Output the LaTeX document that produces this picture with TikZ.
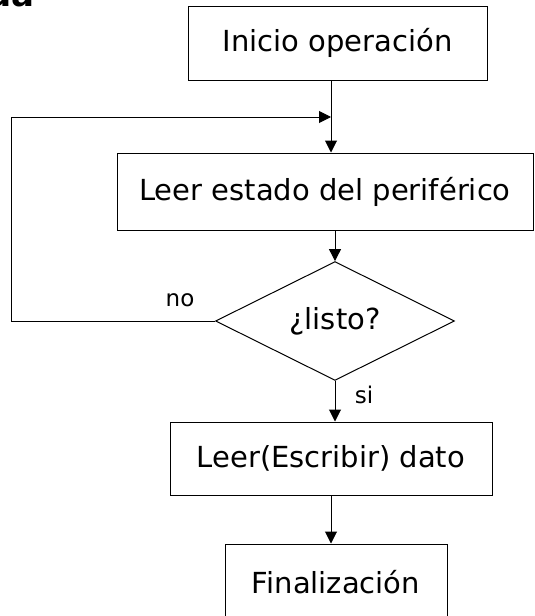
\documentclass[tikz,border=0pt]{standalone}
\usepackage{fontspec}
\setmainfont{DejaVu Sans}
\usetikzlibrary{arrows.meta,shapes.geometric}
\tikzset{
  box/.style={draw=black, line width=1pt, inner sep=0pt, font=\fontsize{29}{32}\selectfont},
  decision/.style={draw=black, line width=1pt, diamond, inner sep=0pt, minimum width=239pt, minimum height=105pt, font=\fontsize{29}{32}\selectfont},
  arr/.style={draw=black, line width=1pt, -{Triangle[length=12pt,width=12pt]}},
  lbl/.style={inner sep=0pt, font=\fontsize{23}{26}\selectfont},
  titlefrag/.style={inner sep=0pt, font=\fontsize{34}{38}\selectfont\bfseries}
}
\begin{document}
\begin{tikzpicture}[x=1pt,y=-1pt]
\useasboundingbox (0,0) rectangle (535,616);
\clip (0,0) rectangle (535,616);
\fill[white] (0,0) rectangle (535,616);
\node[titlefrag, anchor=base east] (title) at (35,6) {ua};
\node[box, minimum width=299pt, minimum height=74pt] (b1) at (337.5,43) {Inicio operación};
\node[box, minimum width=416pt, minimum height=77pt] (b2) at (325,191.5) {Leer estado del periférico};
\node[decision] (dia) at (335,321) {¿listo?};
\node[box, minimum width=322pt, minimum height=73pt] (b3) at (331,458.5) {Leer(Escribir) dato};
\node[box, minimum width=222pt, minimum height=76pt] (b4) at (336,582) {Finalización};
\coordinate (j) at (331,117);
\coordinate (lc) at (11,117);
\draw[arr] (b1.south -| j) -- (b2.north -| j);
\draw[arr] (dia.west) -| (lc) -- (j);
\draw[arr] (b2.south -| dia.north) -- (dia.north);
\draw[arr] (dia.south) -- (dia.south |- b3.north);
\draw[arr] (b3.south) -- (b3.south |- b4.north);
\node[lbl] (no) at (180,300) {no};
\node[lbl] (si) at (364,395) {si};
\end{tikzpicture}
\end{document}
